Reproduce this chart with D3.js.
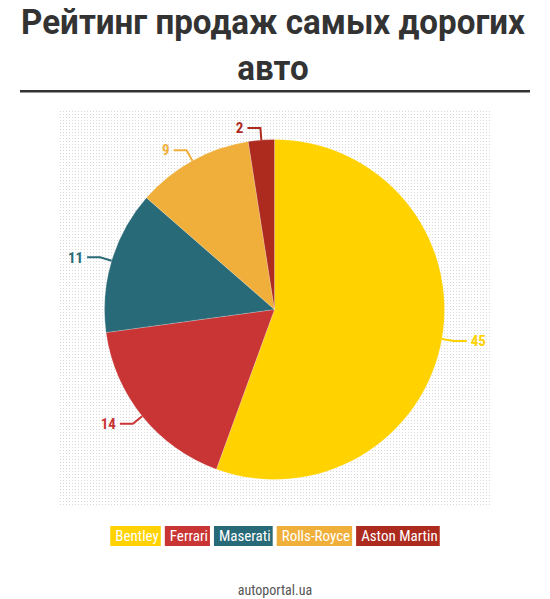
<!DOCTYPE html>
<html><head><meta charset="utf-8">
<script src="https://cdn.jsdelivr.net/npm/d3@7"></script>
<style>
html,body{margin:0;padding:0;background:#fff;}
svg{display:block;}
</style>
</head><body>
<svg id="chart" width="550" height="599"></svg>
<script>
const categories = ["Bentley", "Ferrari", "Maserati", "Rolls-Royce", "Aston Martin"];
const values = [45, 14, 11, 9, 2];
const colors = ["#FFD200", "#C93535", "#286A78", "#F0AF3A", "#AD2A1E"];
const titleLines = ["Рейтинг продаж самых дорогих", "авто"];
const sourceText = "autoportal.ua";

const svg = d3.select("#chart");
const narrow = "'Liberation Sans Narrow','Arial Narrow','Roboto Condensed',sans-serif";

// dotted background pattern
const defs = svg.append("defs");
const pat = defs.append("pattern").attr("id","dots").attr("patternUnits","userSpaceOnUse")
  .attr("width",3).attr("height",3);
pat.append("rect").attr("x",0).attr("y",0).attr("width",1).attr("height",1).attr("fill","#d9d9d9");
svg.append("rect").attr("x",60).attr("y",109).attr("width",430).attr("height",398).attr("fill","url(#dots)");

// title (horizontally fitted to the reference width)
const tg = svg.append("g");
const t1 = tg.append("text").attr("x",0).attr("y",34.5).attr("text-anchor","middle")
  .attr("font-family","Roboto,'Open Sans',sans-serif").attr("font-weight","bold").attr("font-size",35)
  .attr("fill","#333").text(titleLines[0]);
const t2 = tg.append("text").attr("x",0).attr("y",80.5).attr("text-anchor","middle")
  .attr("font-family","Roboto,'Open Sans',sans-serif").attr("font-weight","bold").attr("font-size",35)
  .attr("fill","#333").text(titleLines[1]);
const w1 = t1.node().getComputedTextLength();
const sx = 504 / w1;
tg.attr("transform",`translate(273,0) scale(${sx},1)`);
svg.append("rect").attr("x",20).attr("y",90).attr("width",510).attr("height",2.5).attr("fill","#333");

// pie
const cx = 274.5, cy = 309.5, r = 170;
const data = categories.map((c,i)=>({name:c, value:values[i], color:colors[i]}));
const pie = d3.pie().value(d=>d.value).sort(null);
const arcs = pie(data);
const arc = d3.arc().innerRadius(0).outerRadius(r);
const g = svg.append("g").attr("transform",`translate(${cx},${cy})`);
g.selectAll("path.slice").data(arcs).join("path").attr("class","slice")
  .attr("d",arc).attr("fill",d=>d.data.color).attr("stroke","#fff").attr("stroke-width",0.4).attr("stroke-opacity",0.5);

// labels with connectors
arcs.forEach(a=>{
  const m = (a.startAngle+a.endAngle)/2;
  const sxm = Math.sin(m), sym = -Math.cos(m);
  const p0 = [sxm*r, sym*r];
  const p1 = [sxm*(r+12), sym*(r+12)];
  const dir = sxm >= 0 ? 1 : -1;
  const p2 = [p1[0] + dir*13, p1[1]];
  g.append("path").attr("d",`M${p0[0]},${p0[1]}L${p1[0]},${p1[1]}L${p2[0]},${p2[1]}`)
    .attr("fill","none").attr("stroke",a.data.color).attr("stroke-width",2);
  g.append("text").attr("x",p2[0]+dir*4).attr("y",p2[1]).attr("dy","0.35em")
    .attr("text-anchor",dir>0?"start":"end")
    .attr("font-family",narrow).attr("font-weight","bold").attr("font-size",15)
    .attr("fill",a.data.color).text(a.data.value);
});

// legend
const legend = svg.append("g");
let items = [];
let x = 0;
data.forEach(d=>{
  const gi = legend.append("g");
  const rect = gi.append("rect").attr("y",526).attr("height",20).attr("fill",d.color);
  const tx = gi.append("text").attr("y",541).attr("font-family",narrow).attr("font-size",15)
    .attr("fill","#fff").text(d.name);
  const tw = tx.node().getComputedTextLength();
  const bw = tw + 7;
  items.push({rect,tx,bw,x});
  x += bw + 4;
});
const total = x - 4;
const x0 = 275 - total/2;
items.forEach(it=>{
  it.rect.attr("x",x0+it.x).attr("width",it.bw);
  it.tx.attr("x",x0+it.x+5);
});

// footer
svg.append("text").attr("x",275).attr("y",595).attr("text-anchor","middle")
  .attr("font-family",narrow).attr("font-size",14).attr("fill","#555").text(sourceText);
</script>
</body></html>
